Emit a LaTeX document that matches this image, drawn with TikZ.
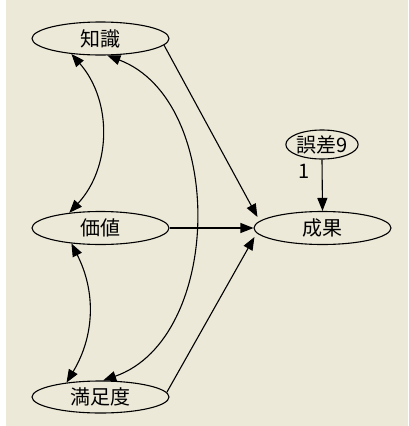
\documentclass[tikz,border=0pt]{standalone}
\usepackage{fontspec}
\newfontfamily\jpfont{Noto Sans CJK JP}
\usetikzlibrary{arrows.meta,shapes.geometric}
\definecolor{xpbg}{RGB}{236,233,216}
\tikzset{
  var/.style={ellipse,draw,line width=1.1pt,inner sep=0pt,minimum width=137pt,minimum height=33pt,font=\jpfont\fontsize{20}{20}\selectfont},
  err/.style={var,minimum width=70pt,minimum height=29pt},
  tip/.tip={Triangle[length=13pt,width=10pt]},
  path/.style={line width=1.1pt,-tip},
  cov/.style={line width=1.1pt,tip-tip},
}
\begin{document}
\begin{tikzpicture}[x=1pt,y=-1pt]
\fill[white] (0,0) rectangle (408,426);
\useasboundingbox (0,0) rectangle (408,426);
\fill[xpbg] (6,0) rectangle (408,426);
\node[var] (a) at (100.5,38.5) {知識};
\node[var] (b) at (100.5,228) {価値};
\node[var,minimum height=32pt] (c) at (100.5,397) {満足度};
\node[var] (d) at (322.5,228) {成果};
\node[err] (e) at (322,144.5) {誤差9};
\node[font=\jpfont\fontsize{20}{20}\selectfont] (one) at (304,171) {1};
\draw[path] (e.south) -- (d.north);
\draw[path] (a.354) -- ([shift={(4,-11)}]d.west);
\draw[path] (b.east) -- (d.west);
\draw[path] (c.4) -- ([shift={(1,9)}]d.west);
\draw[cov] (a.208) to[bend left=42] (b.154);
\draw[cov] (b.208) to[bend left=29] (c.157);
\draw[cov] (a.292) to[bend left=70] (c.81);
\end{tikzpicture}
\end{document}
